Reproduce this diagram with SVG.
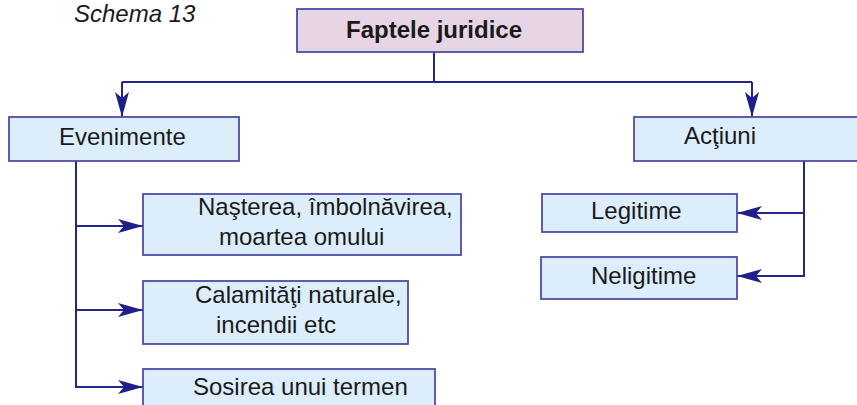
<svg xmlns="http://www.w3.org/2000/svg" width="857" height="405" viewBox="0 0 857 405">
<style>
.box{fill:#dcedfb;stroke:#4d4ca6;stroke-width:1.8}
.top{fill:#e7d4e4;stroke:#4d4ca6;stroke-width:1.8}
.t{font-family:"Liberation Sans",Arial,sans-serif;font-size:24px;fill:#1a1a1a}
.b{font-weight:bold}
.c{fill:none;stroke:#25258c;stroke-width:2}
</style>
<defs>
<marker id="ah" markerUnits="userSpaceOnUse" viewBox="0 0 26 16" refX="25" refY="8" markerWidth="26" markerHeight="16" orient="auto">
<path d="M0,1 L25,8 L0,15 L6,8 Z" fill="#1f1f8a"/>
</marker>
</defs>
<rect width="857" height="405" fill="#ffffff"/>
<text class="t" x="74" y="22" font-style="italic" font-size="23px">Schema 13</text>
<g id="connectors">
<path class="c" d="M434,52 V82 M122,82 H752"/>
<path class="c" d="M122,82 V117" marker-end="url(#ah)"/>
<path class="c" d="M752,82 V117" marker-end="url(#ah)"/>
<path class="c" d="M76,161 V388"/>
<path class="c" d="M76,226 H143" marker-end="url(#ah)"/>
<path class="c" d="M76,310 H143" marker-end="url(#ah)"/>
<path class="c" d="M76,387 H143" marker-end="url(#ah)"/>
<path class="c" d="M804,161 V276 H737" marker-end="url(#ah)"/>
<path class="c" d="M804,213 H737" marker-end="url(#ah)"/>
</g>
<g id="n-faptele">
<rect class="top" x="297" y="9" width="286" height="43"/>
<text class="t b" x="346" y="38">Faptele juridice</text>
</g>
<g id="n-evenimente">
<rect class="box" x="9" y="117" width="230" height="44"/>
<text class="t" x="59" y="145">Evenimente</text>
</g>
<g id="n-actiuni">
<rect class="box" x="634" y="117" width="226" height="44"/>
<text class="t" x="684" y="144">Acţiuni</text>
</g>
<g id="n-nasterea">
<rect class="box" x="143" y="194" width="318" height="61"/>
<text class="t" x="198" y="215">Naşterea, îmbolnăvirea,</text>
<text class="t" x="219" y="245">moartea omului</text>
</g>
<g id="n-calamitati">
<rect class="box" x="143" y="281" width="265" height="63"/>
<text class="t" x="195" y="303">Calamităţi naturale,</text>
<text class="t" x="216" y="333">incendii etc</text>
</g>
<g id="n-sosirea">
<rect class="box" x="143" y="369" width="292" height="45"/>
<text class="t" x="193" y="395">Sosirea unui termen</text>
</g>
<g id="n-legitime">
<rect class="box" x="542" y="194" width="195" height="38"/>
<text class="t" x="591" y="219">Legitime</text>
</g>
<g id="n-neligitime">
<rect class="box" x="541" y="257" width="196" height="42"/>
<text class="t" x="591" y="284">Neligitime</text>
</g>
</svg>
